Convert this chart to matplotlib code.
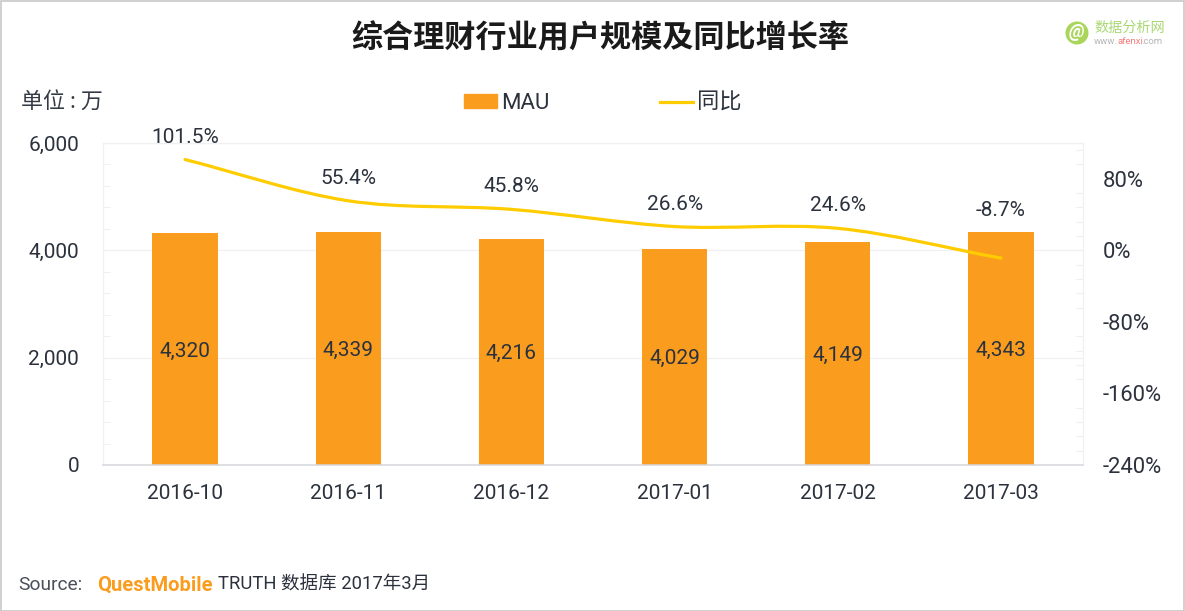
import numpy as np
import matplotlib
matplotlib.use("Agg")
import matplotlib.pyplot as plt
from matplotlib.path import Path
from matplotlib.patches import PathPatch, Rectangle, Circle
from matplotlib.lines import Line2D
from matplotlib.patches import Patch

plt.rcParams['font.family'] = ['Roboto', 'Noto Sans CJK SC', 'DejaVu Sans']

months = ['2016-10', '2016-11', '2016-12', '2017-01', '2017-02', '2017-03']
mau = [4320, 4339, 4216, 4029, 4149, 4343]
yoy = [101.5, 55.4, 45.8, 26.6, 24.6, -8.7]
left_ticks = [0, 2000, 4000, 6000]
right_ticks = [-240, -160, -80, 0, 80]
title = '综合理财行业用户规模及同比增长率'

W, H = 1185, 611
BAR = '#FA9C1E'
LINE = '#FFCC00'
TXT = '#2B323D'
GRID = '#F0F0F2'
FS = 15
CJK = ['Noto Sans CJK SC', 'DejaVu Sans']

fig = plt.figure(figsize=(W / 100, H / 100), dpi=100, facecolor='white')
ax = fig.add_axes([103.5 / W, 1 - 465 / H, (1082.5 - 103.5) / W, (465 - 143) / H])
ax2 = ax.twinx()

x = np.arange(len(months))
bars = ax.bar(x, mau, width=0.4, color=BAR, zorder=2)
ax.set_xlim(-0.5, len(months) - 0.5)
ax.set_ylim(0, 6000)
ax.set_yticks(left_ticks)
ax.set_yticklabels([f'{v:,}' for v in left_ticks], fontsize=FS, color=TXT)
ax.set_yticks(np.arange(0, 6001, 400), minor=True)
ax.set_xticks(x)
ax.set_xticklabels(months, fontsize=FS, color=TXT)
ax.tick_params(axis='x', length=0, pad=13.5)
ax.tick_params(axis='y', which='major', length=0, pad=17.5)
ax.tick_params(axis='y', which='minor', direction='in', length=5, width=0.8, color=GRID)
ax.grid(axis='y', which='major', color=GRID, lw=0.9, zorder=0)
ax.set_axisbelow(True)

for s in ax.spines.values():
    s.set_color(GRID); s.set_linewidth(0.9)
ax.spines['bottom'].set_color('#D5D6DC')
ax.spines['bottom'].set_linewidth(1.1)

ax2.set_ylim(-240, 120)
ax2.set_yticks(right_ticks)
ax2.set_yticklabels([f'{v}%' for v in right_ticks], fontsize=15.8, color=TXT)
ax2.set_yticks(np.arange(-240, 121, 16), minor=True)
ax2.tick_params(axis='y', which='major', length=0, pad=14.5)
ax2.tick_params(axis='y', which='minor', direction='in', length=5, width=0.8, color=GRID)
for s in ax2.spines.values():
    s.set_visible(False)
ax2.set_zorder(ax.get_zorder() + 1)
ax2.patch.set_visible(False)

# Smooth curve through the data (Catmull-Rom style Bezier segments)
pts = np.column_stack([x, yoy]).astype(float)
tan = np.gradient(pts, axis=0)
verts = [tuple(pts[0])]
codes = [Path.MOVETO]
for i in range(len(pts) - 1):
    verts += [tuple(pts[i] + tan[i] * 0.33), tuple(pts[i + 1] - tan[i + 1] * 0.33), tuple(pts[i + 1])]
    codes += [Path.CURVE4] * 3
ax2.add_patch(PathPatch(Path(verts, codes), fc='none', ec=LINE, lw=2.3, capstyle='round', zorder=3))

for xi, v in zip(x, mau):
    ax.annotate(f'{v:,}', (xi, v / 2), xytext=(0, -1.4), textcoords='offset points',
                ha='center', va='center', fontsize=FS, color=TXT, zorder=4)
offsets = [22.5, 22.5, 22.5, 22.5, 22.5, 47.5]
for xi, v, off in zip(x, yoy, offsets):
    ax2.annotate(f'{v}%', (xi, v), xytext=(0, off * 0.72), textcoords='offset points',
                 ha='center', va='center', fontsize=FS, color=TXT, zorder=4, annotation_clip=False)

def T(px, py, s, **kw):
    kw.setdefault('va', 'center')
    return fig.text(px / W, 1 - py / H, s, **kw)

T(600, 38.5, title, ha='center', fontsize=22.4, fontweight='bold', color='#1A1A1A', family=CJK)
T(21, 102, '单位 : 万', fontsize=15.8, color='#333A45', family=CJK)

handles = [Patch(color=BAR, label='MAU'), Line2D([0], [0], color=LINE, lw=2.3, label='同比')]
leg = fig.legend(handles=handles, ncol=2, frameon=False, fontsize=16, labelcolor=TXT,
                 loc='center left', bbox_to_anchor=(444 / W, 1 - 103.5 / H),
                 handlelength=1.48, handleheight=0.6, handletextpad=0.2, columnspacing=4.95)

# Source line
T(18, 585, 'Source:', fontsize=13.8, color='#4A505A')
T(97, 585, 'QuestMobile', fontsize=14.5, fontweight='bold', color=BAR)
T(218, 585, 'TRUTH 数据库 2017年3月', fontsize=13.3, color=TXT)

# Logo
fig.add_artist(Circle((1077, H - 33), 11.5, transform=None, fc='#A9D65A', ec='none'))
T(1077, 32, '@', ha='center', fontsize=13, color='white', fontweight='bold', style='italic')
T(1094, 28, '数据分析网', fontsize=10.2, color='#A9D873', family=CJK)
T(1094, 42, 'www.', fontsize=6.8, color='#B5B5B5')
T(1117, 42, 'afenxi', fontsize=6.8, color='#F47C7C')
T(1141, 42, '.com', fontsize=6.8, color='#B5B5B5')

# Image border
fig.add_artist(Rectangle((0.5, 0.5), W - 1.5, H - 1.5, transform=None, fc='none', ec='#C8C8C8', lw=1.2))

fig.savefig('out.png', dpi=100, facecolor='white')
